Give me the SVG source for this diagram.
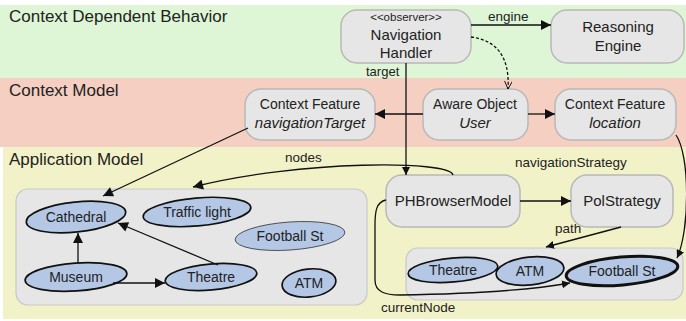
<svg xmlns="http://www.w3.org/2000/svg" width="686" height="321" viewBox="0 0 686 321">
<defs>
<style>
.band-title{font-family:"Liberation Sans",Arial,sans-serif;font-size:17px;fill:#222}
.nt{font-family:"Liberation Sans",Arial,sans-serif;font-size:15px;fill:#222;text-anchor:middle}
.ns{font-family:"Liberation Sans",Arial,sans-serif;font-size:14px;fill:#222;text-anchor:middle}
.st{font-family:"Liberation Sans",Arial,sans-serif;font-size:11.5px;fill:#222;text-anchor:middle}
.lbl{font-family:"Liberation Sans",Arial,sans-serif;font-size:13.5px;fill:#222}
.box{fill:#e6e6e6;stroke:#b8b8b8;stroke-width:1.5}
.cont{fill:#e6e6e6;stroke:#c8c8c8;stroke-width:1.2}
.ell{fill:#b4c8e6;stroke:#111;stroke-width:1.7}
.et{font-family:"Liberation Sans",Arial,sans-serif;font-size:14px;fill:#222;text-anchor:middle}
.edge{fill:none;stroke:#111;stroke-width:1.3}
</style>
<marker id="arr" viewBox="0 0 10 10" refX="10" refY="5" markerWidth="8" markerHeight="8" markerUnits="userSpaceOnUse" orient="auto">
<path d="M0,0 L10,5 L0,10 z" fill="#111"/>
</marker>
<marker id="arrL" viewBox="0 0 10 10" refX="10" refY="5" markerWidth="12" markerHeight="10" markerUnits="userSpaceOnUse" orient="auto">
<path d="M0,0 L10,5 L0,10 z" fill="#111"/>
</marker>
<marker id="open" viewBox="0 0 10 10" refX="10" refY="5" markerWidth="8" markerHeight="8" markerUnits="userSpaceOnUse" orient="auto">
<path d="M0,0 L10,5 L0,10" fill="none" stroke="#111" stroke-width="1.2"/>
</marker>
</defs>
<rect x="0" y="0" width="686" height="321" fill="#ffffff"/>
<g id="bands">
<rect x="0" y="5" width="686" height="73" fill="#def6d6"/>
<rect x="0" y="78" width="686" height="69" fill="#f5cfc2"/>
<rect x="3" y="147" width="683" height="172" fill="#f2f2c8"/>
<text class="band-title" x="9" y="22">Context Dependent Behavior</text>
<text class="band-title" x="9" y="96">Context Model</text>
<text class="band-title" x="9" y="165">Application Model</text>
</g>
<g id="left-container"><rect class="cont" x="16" y="189" width="351" height="116" rx="12"/></g>
<g id="right-container"><rect class="cont" x="406" y="248" width="277" height="52" rx="12"/></g>
<g id="NavigationHandler">
<rect class="box" x="341" y="10" width="130" height="53" rx="16"/>
<text class="st" x="406" y="21">&lt;&lt;observer&gt;&gt;</text>
<text class="nt" x="406" y="40">Navigation</text>
<text class="nt" x="406" y="58">Handler</text>
</g>
<g id="ReasoningEngine">
<rect class="box" x="551" y="10" width="133" height="53" rx="16"/>
<text class="nt" x="618" y="32">Reasoning</text>
<text class="nt" x="618" y="51">Engine</text>
</g>
<g id="ContextFeatureNavTarget">
<rect class="box" x="245" y="89" width="130" height="51" rx="16"/>
<text class="ns" x="310" y="109">Context Feature</text>
<text class="nt" x="310" y="128" font-style="italic">navigationTarget</text>
</g>
<g id="AwareObjectUser">
<rect class="box" x="423" y="89" width="105" height="51" rx="16"/>
<text class="ns" x="475" y="109">Aware Object</text>
<text class="nt" x="475" y="128" font-style="italic">User</text>
</g>
<g id="ContextFeatureLocation">
<rect class="box" x="555" y="89" width="121" height="51" rx="16"/>
<text class="ns" x="615" y="109">Context Feature</text>
<text class="nt" x="615" y="128" font-style="italic">location</text>
</g>
<g id="PHBrowserModel">
<rect class="box" x="386" y="175" width="134" height="52" rx="16"/>
<text class="nt" x="453" y="206">PHBrowserModel</text>
</g>
<g id="PolStrategy">
<rect class="box" x="571" y="175" width="102" height="52" rx="16"/>
<text class="nt" x="622" y="206">PolStrategy</text>
</g>
<g id="Cathedral"><ellipse class="ell" cx="76" cy="217" rx="50" ry="15" transform="rotate(-6 76 217)"/><text class="et" x="76" y="222">Cathedral</text></g>
<g id="TrafficLight"><ellipse class="ell" cx="197" cy="212" rx="54" ry="14" transform="rotate(-5 197 212)"/><text class="et" x="197" y="217">Traffic light</text></g>
<g id="FootballStLeft"><ellipse class="ell" cx="290" cy="236" rx="55" ry="14" transform="rotate(-4 290 236)" style="stroke-width:0.8;stroke:#333"/><text class="et" x="290" y="241">Football St</text></g>
<g id="Museum"><ellipse class="ell" cx="76" cy="277" rx="51" ry="14" transform="rotate(-4 76 277)"/><text class="et" x="76" y="282">Museum</text></g>
<g id="TheatreLeft"><ellipse class="ell" cx="211" cy="277" rx="46" ry="13" transform="rotate(-5 211 277)"/><text class="et" x="211" y="282">Theatre</text></g>
<g id="ATMLeft"><ellipse class="ell" cx="309" cy="283" rx="27" ry="14" transform="rotate(-6 309 283)"/><text class="et" x="309" y="288">ATM</text></g>
<g id="TheatreRight"><ellipse class="ell" cx="453" cy="270" rx="45" ry="12" transform="rotate(-5 453 270)"/><text class="et" x="453" y="275">Theatre</text></g>
<g id="ATMRight"><ellipse class="ell" cx="530" cy="271" rx="34" ry="14" transform="rotate(-6 530 271)"/><text class="et" x="530" y="276">ATM</text></g>
<g id="FootballStRight"><ellipse class="ell" cx="622" cy="271" rx="56" ry="14" transform="rotate(-5 622 271)" style="stroke-width:3"/><text class="et" x="622" y="276">Football St</text></g>
<g id="connectors">
<path class="edge" d="M471,25 L551,25" marker-end="url(#arrL)"/>
<text class="lbl" x="488" y="21">engine</text>
<path class="edge" d="M471,37 C495,40 510,55 508,89" stroke-dasharray="3,2" marker-end="url(#open)"/>
<path class="edge" d="M406,63 L406,175" marker-end="url(#arr)"/>
<text class="lbl" x="366" y="76" style="font-size:13px">target</text>
<path class="edge" d="M423,114 L375,114" marker-end="url(#arrL)"/>
<path class="edge" d="M528,114 L555,114" marker-end="url(#arrL)"/>
<path class="edge" d="M676,135 C690,155 690,230 677,258" marker-end="url(#arr)"/>
<path class="edge" d="M248,128 L103,196" marker-end="url(#arrL)"/>
<path class="edge" d="M453,175 C450,160 300,160 193,187" marker-end="url(#arrL)"/>
<text class="lbl" x="285" y="162">nodes</text>
<path class="edge" d="M520,201 L571,201" marker-end="url(#arrL)"/>
<text class="lbl" x="515" y="167">navigationStrategy</text>
<path class="edge" d="M621,227 L546,247" marker-end="url(#arr)"/>
<text class="lbl" x="555" y="233">path</text>
<path class="edge" d="M386,200 C376,202 375,212 375,225 L375,280 C375,292 385,295 400,295 C470,294 530,290 570,283" marker-end="url(#arr)"/>
<text class="lbl" x="381" y="312">currentNode</text>
<path class="edge" d="M78,263 L78,233" marker-end="url(#arrL)"/>
<path class="edge" d="M113,283 L165,283" marker-end="url(#arrL)"/>
<path class="edge" d="M218,265 L118,223" marker-end="url(#arrL)"/>
</g>
</svg>
